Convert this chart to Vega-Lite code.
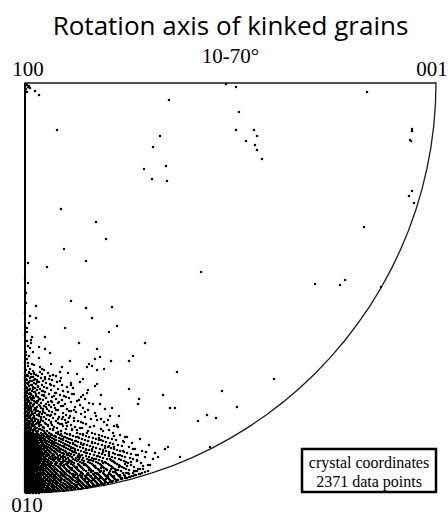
{
"$schema": "https://vega.github.io/schema/vega-lite/v6.json",
"width": 411, "height": 410,
"autosize": {"type": "none"},
"padding": {"left": 25, "top": 83, "right": 12, "bottom": 23},
"background": "white",
"config": {"view": {"stroke": null}},
"title": {"text": "Rotation axis of kinked grains", "subtitle": "10-70°", "font": "Open Sans", "fontSize": 26, "fontWeight": "normal", "color": "black", "subtitleFont": "Liberation Serif", "subtitleFontSize": 21, "subtitleColor": "black", "subtitlePadding": 6, "anchor": "middle", "frame": "group", "offset": -8},
"datasets": {
"outline": [
{"o":0,"x":0,"y":0},{"o":1,"x":0,"y":410},{"o":2,"x":411,"y":410},
{"o":3,"x":410.44,"y":388.54},{"o":4,"x":408.75,"y":367.14},{"o":5,"x":405.94,"y":345.86},{"o":6,"x":402.02,"y":324.76},{"o":7,"x":397.0,"y":303.88},{"o":8,"x":390.89,"y":283.3},{"o":9,"x":383.7,"y":263.07},{"o":10,"x":375.47,"y":243.24},{"o":11,"x":366.21,"y":223.86},{"o":12,"x":355.94,"y":205.0},{"o":13,"x":344.69,"y":186.7},{"o":14,"x":332.51,"y":169.01},{"o":15,"x":319.41,"y":151.98},{"o":16,"x":305.43,"y":135.66},{"o":17,"x":290.62,"y":120.08},{"o":18,"x":275.01,"y":105.31},{"o":19,"x":258.65,"y":91.37},{"o":20,"x":241.58,"y":78.3},{"o":21,"x":223.85,"y":66.15},{"o":22,"x":205.5,"y":54.93},{"o":23,"x":186.59,"y":44.69},{"o":24,"x":167.17,"y":35.44},{"o":25,"x":147.29,"y":27.23},{"o":26,"x":127.01,"y":20.07},{"o":27,"x":106.38,"y":13.97},{"o":28,"x":85.45,"y":8.96},{"o":29,"x":64.29,"y":5.05},{"o":30,"x":42.96,"y":2.25},{"o":31,"x":21.51,"y":0.56},{"o":32,"x":0,"y":0}
],
"pts": [
{"x":144,"y":393},{"x":32,"y":363},{"x":135,"y":357},{"x":128,"y":346},{"x":119,"y":324},{"x":141,"y":327},{"x":127,"y":314},{"x":142,"y":312},{"x":36,"y":284},{"x":71,"y":271},{"x":81,"y":254},{"x":39,"y":244},{"x":61,"y":232},{"x":22,"y":226},{"x":176,"y":221},{"x":14,"y":398},{"x":10,"y":402},{"x":2,"y":408},{"x":3,"y":406},{"x":1,"y":404},{"x":4,"y":407},{"x":2,"y":401},{"x":5,"y":405},{"x":1,"y":409},
{"x":211,"y":406},{"x":342,"y":401},{"x":214,"y":381},{"x":211,"y":363},{"x":229,"y":363},{"x":232,"y":357},{"x":221,"y":352},{"x":230,"y":348},{"x":232,"y":343},{"x":237,"y":334},{"x":387,"y":364},{"x":387,"y":362},{"x":385,"y":353},{"x":386,"y":352},{"x":387,"y":302},{"x":384,"y":297},{"x":389,"y":290},{"x":339,"y":266},{"x":290,"y":209},{"x":315,"y":208},{"x":320,"y":213},{"x":356,"y":206},{"x":201,"y":409},{"x":249,"y":114},{"x":212,"y":86},
{"x":11,"y":187},{"x":46,"y":192},{"x":61,"y":185},{"x":87,"y":186},{"x":11,"y":175},{"x":67,"y":175},{"x":40,"y":165},{"x":92,"y":167},{"x":84,"y":161},{"x":2,"y":161},{"x":7,"y":156},{"x":20,"y":156},{"x":54,"y":150},{"x":120,"y":150},{"x":6,"y":150},{"x":14,"y":146},{"x":20,"y":144},{"x":8,"y":141},{"x":25,"y":140},{"x":72,"y":144},{"x":70,"y":134},{"x":75,"y":136},{"x":86,"y":132},{"x":104,"y":132},{"x":108,"y":137},{"x":45,"y":132},{"x":62,"y":126},{"x":67,"y":127},{"x":72,"y":123},{"x":79,"y":124},{"x":35,"y":121},{"x":52,"y":119},{"x":152,"y":121},{"x":138,"y":98},{"x":197,"y":102},{"x":113,"y":89},{"x":114,"y":94},{"x":145,"y":85},{"x":150,"y":85},{"x":182,"y":78},{"x":191,"y":75},{"x":173,"y":72},{"x":104,"y":104},{"x":55,"y":111},{"x":70,"y":107},{"x":72,"y":109},{"x":47,"y":99},{"x":58,"y":98},{"x":92,"y":67},{"x":89,"y":67},{"x":76,"y":74},{"x":94,"y":77},{"x":100,"y":56},{"x":98,"y":42},{"x":89,"y":46},{"x":111,"y":38},{"x":121,"y":41},{"x":133,"y":36},{"x":143,"y":46},{"x":155,"y":36},{"x":118,"y":27},{"x":101,"y":20},{"x":110,"y":22},{"x":113,"y":24},{"x":123,"y":28},{"x":185,"y":46},
{"x":0,"y":125},{"x":3,"y":130},{"x":1,"y":138},{"x":5,"y":145},{"x":2,"y":152},{"x":9,"y":128},{"x":14,"y":135},{"x":4,"y":170},{"x":0,"y":180},{"x":1,"y":200},{"x":0,"y":215},{"x":3,"y":230},{"x":17,"y":124},{"x":26,"y":129},
{"x":33,"y":4},{"x":44,"y":6},{"x":27,"y":9},{"x":52,"y":11},{"x":61,"y":7},{"x":39,"y":13},{"x":70,"y":15},{"x":57,"y":17},{"x":48,"y":19},{"x":83,"y":16},{"x":66,"y":21},{"x":91,"y":23},{"x":76,"y":25},{"x":35,"y":26},{"x":59,"y":28},{"x":102,"y":27},{"x":44,"y":31},{"x":87,"y":32},{"x":69,"y":34},{"x":53,"y":36},{"x":95,"y":38},{"x":38,"y":40},{"x":78,"y":41},{"x":61,"y":43},{"x":108,"y":44},{"x":46,"y":45},{"x":84,"y":47},{"x":29,"y":49},{"x":67,"y":50},{"x":99,"y":51},{"x":51,"y":52},{"x":74,"y":55},{"x":40,"y":56},{"x":89,"y":57},{"x":58,"y":59},{"x":33,"y":61},{"x":78,"y":62},{"x":47,"y":64},{"x":65,"y":66},{"x":92,"y":68},{"x":37,"y":69},{"x":56,"y":71},{"x":83,"y":73},{"x":44,"y":75},{"x":71,"y":77},{"x":30,"y":79},{"x":60,"y":81},{"x":49,"y":83},{"x":87,"y":85},{"x":38,"y":87},{"x":68,"y":89},{"x":27,"y":91},{"x":54,"y":93},{"x":41,"y":96},{"x":76,"y":98},{"x":31,"y":100},{"x":63,"y":103},{"x":22,"y":105},{"x":46,"y":108},{"x":35,"y":112},{"x":58,"y":114},{"x":25,"y":117},{"x":43,"y":120},{"x":19,"y":123},{"x":37,"y":126},{"x":64,"y":129},
{"x":18,"y":6},{"x":23,"y":12},{"x":29,"y":15},{"x":36,"y":18},{"x":42,"y":22},{"x":47,"y":25},{"x":19,"y":27},{"x":24,"y":29},{"x":38,"y":31},{"x":53,"y":33},{"x":20,"y":35},{"x":27,"y":37},{"x":43,"y":38},{"x":16,"y":40},{"x":33,"y":42},{"x":50,"y":43},{"x":22,"y":46},{"x":39,"y":47},{"x":56,"y":49},{"x":17,"y":51},{"x":30,"y":53},{"x":45,"y":54},{"x":25,"y":57},{"x":36,"y":59},{"x":19,"y":62},{"x":28,"y":64},{"x":52,"y":63},{"x":23,"y":68},{"x":41,"y":70},{"x":16,"y":73},{"x":33,"y":74},{"x":26,"y":78},{"x":18,"y":81},{"x":44,"y":82},{"x":21,"y":86},{"x":34,"y":91},{"x":15,"y":94},{"x":29,"y":97},{"x":17,"y":102},{"x":26,"y":108},{"x":12,"y":111},{"x":20,"y":114},{"x":9,"y":119},{"x":15,"y":126},
{"x":41,"y":3},{"x":50,"y":5},{"x":56,"y":4},{"x":63,"y":6},{"x":68,"y":7},{"x":72,"y":8},{"x":76,"y":9},{"x":80,"y":10},{"x":85,"y":11},{"x":88,"y":12},{"x":93,"y":13},{"x":97,"y":14},{"x":100,"y":15},{"x":104,"y":16},{"x":107,"y":17},{"x":111,"y":18},{"x":114,"y":19},{"x":117,"y":20},{"x":120,"y":21},{"x":123,"y":22},{"x":45,"y":7},{"x":58,"y":9},{"x":66,"y":12},{"x":74,"y":13},{"x":81,"y":14},{"x":89,"y":17},{"x":95,"y":18},{"x":103,"y":20},{"x":109,"y":22},{"x":115,"y":24},{"x":53,"y":15},{"x":62,"y":18},{"x":70,"y":20},{"x":79,"y":22},{"x":86,"y":24},{"x":94,"y":26},{"x":100,"y":29},{"x":106,"y":31},{"x":112,"y":33},
{"x":19,"y":2},{"x":26,"y":3},{"x":32,"y":2},{"x":37,"y":4},{"x":42,"y":5},{"x":29,"y":6},{"x":35,"y":7},{"x":47,"y":6},{"x":52,"y":8},{"x":40,"y":9},{"x":57,"y":10},{"x":31,"y":10},{"x":46,"y":11},{"x":63,"y":11},{"x":25,"y":12},{"x":36,"y":13},{"x":53,"y":12},{"x":68,"y":13},{"x":42,"y":14},{"x":60,"y":14},{"x":75,"y":15},{"x":28,"y":16},{"x":49,"y":16},{"x":66,"y":17},{"x":83,"y":18},{"x":37,"y":19},{"x":56,"y":20},{"x":72,"y":19},{"x":90,"y":21},{"x":44,"y":22},{"x":64,"y":23},{"x":81,"y":24},{"x":30,"y":24},{"x":52,"y":26},{"x":70,"y":27},{"x":92,"y":29},{"x":39,"y":28},{"x":58,"y":30},{"x":78,"y":30},{"x":46,"y":32},{"x":64,"y":33},{"x":85,"y":34},{"x":33,"y":35},{"x":55,"y":37},{"x":73,"y":37},{"x":42,"y":39},{"x":61,"y":40},{"x":84,"y":39},{"x":50,"y":41},{"x":35,"y":43},{"x":67,"y":44},{"x":80,"y":45},{"x":44,"y":47},{"x":58,"y":48},{"x":27,"y":50},{"x":48,"y":50},{"x":63,"y":52},{"x":38,"y":54},{"x":76,"y":53},{"x":53,"y":56},{"x":30,"y":57},{"x":45,"y":59},{"x":62,"y":60},{"x":36,"y":62},{"x":57,"y":65},{"x":42,"y":67},{"x":26,"y":70},{"x":49,"y":72},{"x":38,"y":76},{"x":22,"y":78},{"x":31,"y":83},{"x":24,"y":88},{"x":13,"y":92},{"x":19,"y":98},
{"x":1,"y":15},{"x":3,"y":22},{"x":2,"y":29},{"x":4,"y":33},{"x":1,"y":38},{"x":3,"y":45},{"x":2,"y":51},{"x":4,"y":57},{"x":1,"y":64},{"x":3,"y":68},{"x":6,"y":27},{"x":8,"y":19},{"x":10,"y":33},{"x":12,"y":26},{"x":7,"y":47},{"x":9,"y":52},{"x":11,"y":43},{"x":13,"y":57},{"x":15,"y":30},{"x":17,"y":44},{"x":6,"y":60},{"x":10,"y":65},{"x":14,"y":69},{"x":17,"y":58},{"x":19,"y":39},{"x":12,"y":49},{"x":8,"y":36},{"x":5,"y":42},{"x":7,"y":11},{"x":9,"y":24},{"x":11,"y":6},{"x":13,"y":13},{"x":15,"y":9},{"x":17,"y":20},{"x":19,"y":15},{"x":21,"y":25},{"x":23,"y":33},{"x":25,"y":41},{"x":21,"y":52},{"x":18,"y":66},
{"x":1,"y":61},{"x":3,"y":65},{"x":5,"y":61},{"x":7,"y":63},{"x":9,"y":67},{"x":11,"y":62},{"x":14,"y":64},{"x":2,"y":67},{"x":4,"y":70},{"x":6,"y":72},{"x":8,"y":69},{"x":10,"y":74},{"x":13,"y":71},{"x":16,"y":76},{"x":1,"y":73},{"x":3,"y":78},{"x":5,"y":75},{"x":7,"y":80},{"x":9,"y":77},{"x":11,"y":82},{"x":14,"y":79},{"x":18,"y":84},{"x":0,"y":79},{"x":2,"y":82},{"x":4,"y":86},{"x":6,"y":83},{"x":8,"y":88},{"x":10,"y":85},{"x":12,"y":90},{"x":15,"y":87},{"x":1,"y":88},{"x":3,"y":93},{"x":5,"y":90},{"x":7,"y":95},{"x":9,"y":92},{"x":11,"y":97},{"x":14,"y":94},{"x":0,"y":97},{"x":2,"y":100},{"x":4,"y":103},{"x":6,"y":99},{"x":8,"y":104},{"x":10,"y":101},{"x":13,"y":106},{"x":1,"y":106},{"x":3,"y":110},{"x":5,"y":112},{"x":7,"y":108},{"x":9,"y":113},{"x":0,"y":114},{"x":2,"y":117},{"x":4,"y":120},{"x":6,"y":116},{"x":8,"y":122},{"x":1,"y":123},{"x":3,"y":127},{"x":5,"y":124},{"x":7,"y":129},{"x":0,"y":131},{"x":2,"y":134},{"x":4,"y":137},{"x":1,"y":141},{"x":3,"y":147},{"x":6,"y":153},{"x":0,"y":158},{"x":2,"y":165},{"x":5,"y":177},{"x":1,"y":190},{"x":3,"y":210},
{"x":1,"y":0},{"x":3,"y":0},{"x":5,"y":0},{"x":8,"y":0},{"x":11,"y":0},{"x":14,"y":0},
{"x":0,"y":1},{"x":3,"y":1},{"x":5,"y":1},{"x":8,"y":1},{"x":10,"y":1},{"x":13,"y":1},{"x":17,"y":1},{"x":20,"y":1},{"x":23,"y":1},{"x":26,"y":1},
{"x":1,"y":2},{"x":2,"y":2},{"x":4,"y":2},{"x":7,"y":2},{"x":9,"y":2},{"x":12,"y":2},{"x":15,"y":2},{"x":18,"y":2},{"x":21,"y":2},{"x":24,"y":2},{"x":28,"y":2},{"x":31,"y":2},{"x":35,"y":2},{"x":39,"y":2},
{"x":0,"y":3},{"x":3,"y":3},{"x":6,"y":3},{"x":8,"y":3},{"x":11,"y":3},{"x":13,"y":3},{"x":16,"y":3},{"x":20,"y":3},{"x":23,"y":3},{"x":27,"y":3},{"x":30,"y":3},{"x":34,"y":3},{"x":38,"y":3},{"x":43,"y":3},{"x":47,"y":3},
{"x":1,"y":4},{"x":2,"y":4},{"x":5,"y":4},{"x":7,"y":4},{"x":10,"y":4},{"x":12,"y":4},{"x":15,"y":4},{"x":18,"y":4},{"x":22,"y":4},{"x":25,"y":4},{"x":29,"y":4},{"x":33,"y":4},{"x":37,"y":4},{"x":41,"y":4},{"x":46,"y":4},{"x":50,"y":4},{"x":54,"y":4},
{"x":0,"y":5},{"x":3,"y":5},{"x":4,"y":5},{"x":6,"y":5},{"x":9,"y":5},{"x":11,"y":5},{"x":14,"y":5},{"x":17,"y":5},{"x":21,"y":5},{"x":24,"y":5},{"x":28,"y":5},{"x":32,"y":5},{"x":36,"y":5},{"x":40,"y":5},{"x":45,"y":5},{"x":49,"y":5},{"x":53,"y":5},{"x":58,"y":5},{"x":62,"y":5},
{"x":1,"y":6},{"x":2,"y":6},{"x":5,"y":6},{"x":8,"y":6},{"x":10,"y":6},{"x":13,"y":6},{"x":16,"y":6},{"x":19,"y":6},{"x":23,"y":6},{"x":27,"y":6},{"x":31,"y":6},{"x":35,"y":6},{"x":39,"y":6},{"x":44,"y":6},{"x":48,"y":6},{"x":52,"y":6},{"x":57,"y":6},{"x":61,"y":6},{"x":66,"y":6},
{"x":0,"y":7},{"x":3,"y":7},{"x":4,"y":7},{"x":7,"y":7},{"x":9,"y":7},{"x":12,"y":7},{"x":15,"y":7},{"x":18,"y":7},{"x":22,"y":7},{"x":26,"y":7},{"x":29,"y":7},{"x":34,"y":7},{"x":38,"y":7},{"x":42,"y":7},{"x":47,"y":7},{"x":51,"y":7},{"x":56,"y":7},{"x":60,"y":7},{"x":65,"y":7},{"x":70,"y":7},
{"x":1,"y":8},{"x":2,"y":8},{"x":5,"y":8},{"x":6,"y":8},{"x":8,"y":8},{"x":11,"y":8},{"x":14,"y":8},{"x":17,"y":8},{"x":20,"y":8},{"x":24,"y":8},{"x":28,"y":8},{"x":32,"y":8},{"x":37,"y":8},{"x":41,"y":8},{"x":45,"y":8},{"x":50,"y":8},{"x":55,"y":8},{"x":59,"y":8},{"x":64,"y":8},{"x":69,"y":8},{"x":74,"y":8},{"x":79,"y":8},
{"x":0,"y":9},{"x":3,"y":9},{"x":4,"y":9},{"x":7,"y":9},{"x":10,"y":9},{"x":13,"y":9},{"x":16,"y":9},{"x":19,"y":9},{"x":23,"y":9},{"x":27,"y":9},{"x":31,"y":9},{"x":35,"y":9},{"x":40,"y":9},{"x":44,"y":9},{"x":49,"y":9},{"x":54,"y":9},{"x":58,"y":9},{"x":63,"y":9},{"x":68,"y":9},{"x":73,"y":9},{"x":78,"y":9},
{"x":1,"y":10},{"x":2,"y":10},{"x":5,"y":10},{"x":8,"y":10},{"x":9,"y":10},{"x":12,"y":10},{"x":15,"y":10},{"x":18,"y":10},{"x":21,"y":10},{"x":25,"y":10},{"x":30,"y":10},{"x":33,"y":10},{"x":38,"y":10},{"x":43,"y":10},{"x":47,"y":10},{"x":53,"y":10},{"x":57,"y":10},{"x":62,"y":10},{"x":67,"y":10},{"x":72,"y":10},{"x":77,"y":10},{"x":83,"y":10},
{"x":0,"y":11},{"x":3,"y":11},{"x":4,"y":11},{"x":6,"y":11},{"x":10,"y":11},{"x":11,"y":11},{"x":14,"y":11},{"x":17,"y":11},{"x":20,"y":11},{"x":24,"y":11},{"x":28,"y":11},{"x":32,"y":11},{"x":36,"y":11},{"x":42,"y":11},{"x":46,"y":11},{"x":51,"y":11},{"x":56,"y":11},{"x":61,"y":11},{"x":66,"y":11},{"x":71,"y":11},{"x":76,"y":11},{"x":81,"y":11},{"x":87,"y":11},
{"x":1,"y":12},{"x":2,"y":12},{"x":5,"y":12},{"x":7,"y":12},{"x":9,"y":12},{"x":13,"y":12},{"x":16,"y":12},{"x":19,"y":12},{"x":23,"y":12},{"x":27,"y":12},{"x":31,"y":12},{"x":35,"y":12},{"x":40,"y":12},{"x":45,"y":12},{"x":50,"y":12},{"x":55,"y":12},{"x":60,"y":12},{"x":65,"y":12},{"x":70,"y":12},{"x":75,"y":12},{"x":80,"y":12},{"x":86,"y":12},{"x":91,"y":12},
{"x":0,"y":13},{"x":3,"y":13},{"x":4,"y":13},{"x":6,"y":13},{"x":8,"y":13},{"x":11,"y":13},{"x":14,"y":13},{"x":17,"y":13},{"x":21,"y":13},{"x":26,"y":13},{"x":29,"y":13},{"x":34,"y":13},{"x":39,"y":13},{"x":44,"y":13},{"x":48,"y":13},{"x":54,"y":13},{"x":59,"y":13},{"x":64,"y":13},{"x":69,"y":13},{"x":74,"y":13},{"x":79,"y":13},{"x":85,"y":13},{"x":92,"y":13},
{"x":1,"y":14},{"x":2,"y":14},{"x":5,"y":14},{"x":7,"y":14},{"x":10,"y":14},{"x":12,"y":14},{"x":15,"y":14},{"x":18,"y":14},{"x":22,"y":14},{"x":25,"y":14},{"x":30,"y":14},{"x":33,"y":14},{"x":37,"y":14},{"x":43,"y":14},{"x":47,"y":14},{"x":52,"y":14},{"x":58,"y":14},{"x":63,"y":14},{"x":68,"y":14},{"x":73,"y":14},{"x":78,"y":14},{"x":84,"y":14},{"x":90,"y":14},{"x":96,"y":14},
{"x":0,"y":15},{"x":3,"y":15},{"x":4,"y":15},{"x":6,"y":15},{"x":9,"y":15},{"x":11,"y":15},{"x":13,"y":15},{"x":16,"y":15},{"x":20,"y":15},{"x":24,"y":15},{"x":28,"y":15},{"x":32,"y":15},{"x":36,"y":15},{"x":41,"y":15},{"x":46,"y":15},{"x":51,"y":15},{"x":57,"y":15},{"x":62,"y":15},{"x":67,"y":15},{"x":72,"y":15},{"x":77,"y":15},{"x":83,"y":15},{"x":89,"y":15},{"x":97,"y":15},{"x":102,"y":15},
{"x":1,"y":16},{"x":2,"y":16},{"x":5,"y":16},{"x":8,"y":16},{"x":10,"y":16},{"x":12,"y":16},{"x":14,"y":16},{"x":19,"y":16},{"x":23,"y":16},{"x":27,"y":16},{"x":31,"y":16},{"x":35,"y":16},{"x":40,"y":16},{"x":45,"y":16},{"x":49,"y":16},{"x":56,"y":16},{"x":61,"y":16},{"x":66,"y":16},{"x":71,"y":16},{"x":76,"y":16},{"x":82,"y":16},{"x":88,"y":16},{"x":95,"y":16},{"x":105,"y":16},
{"x":0,"y":17},{"x":3,"y":17},{"x":4,"y":17},{"x":6,"y":17},{"x":7,"y":17},{"x":9,"y":17},{"x":13,"y":17},{"x":16,"y":17},{"x":21,"y":17},{"x":25,"y":17},{"x":29,"y":17},{"x":34,"y":17},{"x":38,"y":17},{"x":44,"y":17},{"x":48,"y":17},{"x":53,"y":17},{"x":60,"y":17},{"x":65,"y":17},{"x":70,"y":17},{"x":75,"y":17},{"x":81,"y":17},{"x":87,"y":17},{"x":94,"y":17},{"x":100,"y":17},{"x":108,"y":17},
{"x":1,"y":18},{"x":2,"y":18},{"x":5,"y":18},{"x":8,"y":18},{"x":11,"y":18},{"x":14,"y":18},{"x":15,"y":18},{"x":18,"y":18},{"x":22,"y":18},{"x":26,"y":18},{"x":30,"y":18},{"x":33,"y":18},{"x":39,"y":18},{"x":42,"y":18},{"x":50,"y":18},{"x":55,"y":18},{"x":64,"y":18},{"x":69,"y":18},{"x":74,"y":18},{"x":80,"y":18},{"x":86,"y":18},{"x":93,"y":18},{"x":99,"y":18},{"x":110,"y":18},
{"x":0,"y":19},{"x":3,"y":19},{"x":4,"y":19},{"x":6,"y":19},{"x":9,"y":19},{"x":10,"y":19},{"x":13,"y":19},{"x":17,"y":19},{"x":20,"y":19},{"x":24,"y":19},{"x":28,"y":19},{"x":32,"y":19},{"x":37,"y":19},{"x":41,"y":19},{"x":47,"y":19},{"x":52,"y":19},{"x":58,"y":19},{"x":62,"y":19},{"x":68,"y":19},{"x":73,"y":19},{"x":79,"y":19},{"x":85,"y":19},{"x":92,"y":19},{"x":104,"y":19},{"x":115,"y":19},
{"x":1,"y":20},{"x":2,"y":20},{"x":5,"y":20},{"x":7,"y":20},{"x":8,"y":20},{"x":12,"y":20},{"x":14,"y":20},{"x":16,"y":20},{"x":19,"y":20},{"x":23,"y":20},{"x":27,"y":20},{"x":31,"y":20},{"x":36,"y":20},{"x":40,"y":20},{"x":45,"y":20},{"x":51,"y":20},{"x":57,"y":20},{"x":63,"y":20},{"x":72,"y":20},{"x":78,"y":20},{"x":84,"y":20},{"x":91,"y":20},{"x":98,"y":20},{"x":108,"y":20},
{"x":0,"y":21},{"x":3,"y":21},{"x":6,"y":21},{"x":9,"y":21},{"x":12,"y":21},{"x":15,"y":21},{"x":18,"y":21},{"x":22,"y":21},{"x":26,"y":21},{"x":30,"y":21},{"x":35,"y":21},{"x":39,"y":21},{"x":44,"y":21},{"x":50,"y":21},{"x":56,"y":21},{"x":66,"y":21},{"x":75,"y":21},{"x":88,"y":21},
{"x":0,"y":22},{"x":2,"y":22},{"x":4,"y":22},{"x":5,"y":22},{"x":7,"y":22},{"x":10,"y":22},{"x":12,"y":22},{"x":15,"y":22},{"x":18,"y":22},{"x":21,"y":22},{"x":25,"y":22},{"x":29,"y":22},{"x":33,"y":22},{"x":38,"y":22},{"x":43,"y":22},{"x":49,"y":22},{"x":54,"y":22},{"x":61,"y":22},{"x":68,"y":22},{"x":76,"y":22},{"x":85,"y":22},{"x":96,"y":22},{"x":112,"y":22},
{"x":1,"y":23},{"x":3,"y":23},{"x":6,"y":23},{"x":9,"y":23},{"x":11,"y":23},{"x":14,"y":23},{"x":17,"y":23},{"x":20,"y":23},{"x":24,"y":23},{"x":28,"y":23},{"x":32,"y":23},{"x":37,"y":23},{"x":42,"y":23},{"x":47,"y":23},{"x":53,"y":23},{"x":59,"y":23},{"x":66,"y":23},{"x":74,"y":23},{"x":82,"y":23},{"x":93,"y":23},{"x":104,"y":23},
{"x":0,"y":24},{"x":2,"y":24},{"x":4,"y":24},{"x":7,"y":24},{"x":8,"y":24},{"x":10,"y":24},{"x":13,"y":24},{"x":16,"y":24},{"x":19,"y":24},{"x":23,"y":24},{"x":27,"y":24},{"x":31,"y":24},{"x":36,"y":24},{"x":41,"y":24},{"x":46,"y":24},{"x":52,"y":24},{"x":58,"y":24},{"x":65,"y":24},{"x":73,"y":24},{"x":81,"y":24},{"x":90,"y":24},{"x":101,"y":24},{"x":118,"y":24},
{"x":1,"y":25},{"x":3,"y":25},{"x":5,"y":25},{"x":6,"y":25},{"x":9,"y":25},{"x":12,"y":25},{"x":15,"y":25},{"x":18,"y":25},{"x":22,"y":25},{"x":26,"y":25},{"x":30,"y":25},{"x":35,"y":25},{"x":40,"y":25},{"x":45,"y":25},{"x":51,"y":25},{"x":57,"y":25},{"x":64,"y":25},{"x":71,"y":25},{"x":79,"y":25},{"x":88,"y":25},{"x":99,"y":25},
{"x":0,"y":26},{"x":2,"y":26},{"x":4,"y":26},{"x":6,"y":26},{"x":8,"y":26},{"x":11,"y":26},{"x":14,"y":26},{"x":17,"y":26},{"x":21,"y":26},{"x":25,"y":26},{"x":29,"y":26},{"x":34,"y":26},{"x":39,"y":26},{"x":44,"y":26},{"x":50,"y":26},{"x":56,"y":26},{"x":63,"y":26},{"x":70,"y":26},{"x":78,"y":26},{"x":87,"y":26},{"x":97,"y":26},{"x":109,"y":26},
{"x":1,"y":27},{"x":3,"y":27},{"x":5,"y":27},{"x":7,"y":27},{"x":10,"y":27},{"x":12,"y":27},{"x":16,"y":27},{"x":20,"y":27},{"x":24,"y":27},{"x":28,"y":27},{"x":33,"y":27},{"x":38,"y":27},{"x":43,"y":27},{"x":49,"y":27},{"x":55,"y":27},{"x":62,"y":27},{"x":69,"y":27},{"x":77,"y":27},{"x":86,"y":27},{"x":95,"y":27},
{"x":0,"y":28},{"x":2,"y":28},{"x":4,"y":28},{"x":6,"y":28},{"x":9,"y":28},{"x":11,"y":28},{"x":13,"y":28},{"x":18,"y":28},{"x":22,"y":28},{"x":26,"y":28},{"x":31,"y":28},{"x":36,"y":28},{"x":42,"y":28},{"x":48,"y":28},{"x":54,"y":28},{"x":61,"y":28},{"x":68,"y":28},{"x":76,"y":28},{"x":84,"y":28},{"x":94,"y":28},{"x":106,"y":28},{"x":125,"y":28},
{"x":1,"y":29},{"x":3,"y":29},{"x":5,"y":29},{"x":8,"y":29},{"x":10,"y":29},{"x":14,"y":29},{"x":17,"y":29},{"x":20,"y":29},{"x":25,"y":29},{"x":30,"y":29},{"x":35,"y":29},{"x":41,"y":29},{"x":46,"y":29},{"x":53,"y":29},{"x":60,"y":29},{"x":67,"y":29},{"x":75,"y":29},{"x":83,"y":29},{"x":92,"y":29},
{"x":0,"y":30},{"x":2,"y":30},{"x":4,"y":30},{"x":6,"y":30},{"x":7,"y":30},{"x":9,"y":30},{"x":12,"y":30},{"x":15,"y":30},{"x":19,"y":30},{"x":23,"y":30},{"x":27,"y":30},{"x":32,"y":30},{"x":37,"y":30},{"x":43,"y":30},{"x":49,"y":30},{"x":57,"y":30},{"x":65,"y":30},{"x":73,"y":30},{"x":81,"y":30},{"x":90,"y":30},{"x":103,"y":30},{"x":116,"y":30},
{"x":1,"y":31},{"x":3,"y":31},{"x":5,"y":31},{"x":8,"y":31},{"x":11,"y":31},{"x":14,"y":31},{"x":18,"y":31},{"x":22,"y":31},{"x":26,"y":31},{"x":31,"y":31},{"x":36,"y":31},{"x":42,"y":31},{"x":47,"y":31},{"x":55,"y":31},{"x":63,"y":31},{"x":71,"y":31},{"x":80,"y":31},{"x":89,"y":31},{"x":101,"y":31},
{"x":0,"y":32},{"x":2,"y":32},{"x":3,"y":32},{"x":6,"y":32},{"x":9,"y":32},{"x":10,"y":32},{"x":13,"y":32},{"x":16,"y":32},{"x":20,"y":32},{"x":24,"y":32},{"x":29,"y":32},{"x":34,"y":32},{"x":40,"y":32},{"x":45,"y":32},{"x":52,"y":32},{"x":59,"y":32},{"x":68,"y":32},{"x":77,"y":32},{"x":88,"y":32},{"x":99,"y":32},{"x":112,"y":32},
{"x":1,"y":33},{"x":4,"y":33},{"x":5,"y":33},{"x":7,"y":33},{"x":11,"y":33},{"x":12,"y":33},{"x":15,"y":33},{"x":19,"y":33},{"x":23,"y":33},{"x":28,"y":33},{"x":33,"y":33},{"x":38,"y":33},{"x":44,"y":33},{"x":50,"y":33},{"x":57,"y":33},{"x":66,"y":33},{"x":74,"y":33},{"x":86,"y":33},{"x":96,"y":33},
{"x":0,"y":34},{"x":2,"y":34},{"x":3,"y":34},{"x":6,"y":34},{"x":8,"y":34},{"x":10,"y":34},{"x":14,"y":34},{"x":17,"y":34},{"x":21,"y":34},{"x":26,"y":34},{"x":30,"y":34},{"x":35,"y":34},{"x":41,"y":34},{"x":48,"y":34},{"x":54,"y":34},{"x":62,"y":34},{"x":71,"y":34},{"x":82,"y":34},{"x":94,"y":34},{"x":108,"y":34},{"x":128,"y":34},
{"x":1,"y":35},{"x":4,"y":35},{"x":5,"y":35},{"x":7,"y":35},{"x":9,"y":35},{"x":12,"y":35},{"x":15,"y":35},{"x":19,"y":35},{"x":24,"y":35},{"x":28,"y":35},{"x":32,"y":35},{"x":38,"y":35},{"x":43,"y":35},{"x":51,"y":35},{"x":58,"y":35},{"x":67,"y":35},{"x":78,"y":35},{"x":90,"y":35},{"x":105,"y":35},
{"x":0,"y":36},{"x":2,"y":36},{"x":3,"y":36},{"x":6,"y":36},{"x":8,"y":36},{"x":11,"y":36},{"x":13,"y":36},{"x":16,"y":36},{"x":20,"y":36},{"x":25,"y":36},{"x":30,"y":36},{"x":36,"y":36},{"x":40,"y":36},{"x":47,"y":36},{"x":55,"y":36},{"x":64,"y":36},{"x":75,"y":36},{"x":87,"y":36},{"x":100,"y":36},{"x":120,"y":36},
{"x":1,"y":37},{"x":4,"y":37},{"x":5,"y":37},{"x":7,"y":37},{"x":10,"y":37},{"x":12,"y":37},{"x":15,"y":37},{"x":18,"y":37},{"x":22,"y":37},{"x":27,"y":37},{"x":33,"y":37},{"x":38,"y":37},{"x":45,"y":37},{"x":53,"y":37},{"x":61,"y":37},{"x":72,"y":37},{"x":84,"y":37},{"x":97,"y":37},
{"x":0,"y":38},{"x":2,"y":38},{"x":3,"y":38},{"x":6,"y":38},{"x":9,"y":38},{"x":11,"y":38},{"x":14,"y":38},{"x":17,"y":38},{"x":21,"y":38},{"x":24,"y":38},{"x":29,"y":38},{"x":35,"y":38},{"x":42,"y":38},{"x":49,"y":38},{"x":57,"y":38},{"x":69,"y":38},{"x":80,"y":38},{"x":93,"y":38},{"x":113,"y":38},
{"x":1,"y":39},{"x":4,"y":39},{"x":5,"y":39},{"x":8,"y":39},{"x":10,"y":39},{"x":13,"y":39},{"x":16,"y":39},{"x":19,"y":39},{"x":23,"y":39},{"x":28,"y":39},{"x":32,"y":39},{"x":39,"y":39},{"x":46,"y":39},{"x":54,"y":39},{"x":65,"y":39},{"x":77,"y":39},{"x":90,"y":39},{"x":106,"y":39},
{"x":0,"y":40},{"x":2,"y":40},{"x":3,"y":40},{"x":6,"y":40},{"x":7,"y":40},{"x":9,"y":40},{"x":12,"y":40},{"x":15,"y":40},{"x":18,"y":40},{"x":22,"y":40},{"x":26,"y":40},{"x":31,"y":40},{"x":37,"y":40},{"x":44,"y":40},{"x":51,"y":40},{"x":62,"y":40},{"x":74,"y":40},{"x":88,"y":40},{"x":102,"y":40},{"x":130,"y":40},
{"x":1,"y":41},{"x":4,"y":41},{"x":5,"y":41},{"x":8,"y":41},{"x":11,"y":41},{"x":13,"y":41},{"x":17,"y":41},{"x":20,"y":41},{"x":25,"y":41},{"x":30,"y":41},{"x":35,"y":41},{"x":41,"y":41},{"x":48,"y":41},{"x":59,"y":41},{"x":70,"y":41},{"x":84,"y":41},{"x":99,"y":41},
{"x":0,"y":42},{"x":2,"y":42},{"x":3,"y":42},{"x":6,"y":42},{"x":9,"y":42},{"x":10,"y":42},{"x":14,"y":42},{"x":16,"y":42},{"x":21,"y":42},{"x":24,"y":42},{"x":29,"y":42},{"x":34,"y":42},{"x":40,"y":42},{"x":47,"y":42},{"x":56,"y":42},{"x":67,"y":42},{"x":81,"y":42},{"x":95,"y":42},{"x":117,"y":42},
{"x":1,"y":43},{"x":4,"y":43},{"x":5,"y":43},{"x":7,"y":43},{"x":8,"y":43},{"x":12,"y":43},{"x":15,"y":43},{"x":19,"y":43},{"x":23,"y":43},{"x":27,"y":43},{"x":32,"y":43},{"x":38,"y":43},{"x":45,"y":43},{"x":53,"y":43},{"x":64,"y":43},{"x":78,"y":43},{"x":92,"y":43},
{"x":0,"y":44},{"x":2,"y":44},{"x":3,"y":44},{"x":6,"y":44},{"x":9,"y":44},{"x":11,"y":44},{"x":14,"y":44},{"x":18,"y":44},{"x":22,"y":44},{"x":26,"y":44},{"x":31,"y":44},{"x":36,"y":44},{"x":43,"y":44},{"x":50,"y":44},{"x":61,"y":44},{"x":75,"y":44},{"x":89,"y":44},{"x":110,"y":44},{"x":140,"y":44},
{"x":1,"y":45},{"x":4,"y":45},{"x":5,"y":45},{"x":7,"y":45},{"x":10,"y":45},{"x":13,"y":45},{"x":16,"y":45},{"x":20,"y":45},{"x":25,"y":45},{"x":29,"y":45},{"x":34,"y":45},{"x":41,"y":45},{"x":48,"y":45},{"x":58,"y":45},{"x":71,"y":45},{"x":86,"y":45},
{"x":0,"y":46},{"x":2,"y":46},{"x":3,"y":46},{"x":6,"y":46},{"x":8,"y":46},{"x":11,"y":46},{"x":12,"y":46},{"x":15,"y":46},{"x":19,"y":46},{"x":23,"y":46},{"x":28,"y":46},{"x":33,"y":46},{"x":39,"y":46},{"x":46,"y":46},{"x":55,"y":46},{"x":68,"y":46},{"x":83,"y":46},{"x":104,"y":46},
{"x":1,"y":47},{"x":4,"y":47},{"x":5,"y":47},{"x":7,"y":47},{"x":10,"y":47},{"x":14,"y":47},{"x":17,"y":47},{"x":21,"y":47},{"x":26,"y":47},{"x":31,"y":47},{"x":37,"y":47},{"x":44,"y":47},{"x":52,"y":47},{"x":65,"y":47},{"x":80,"y":47},{"x":97,"y":47},
{"x":0,"y":48},{"x":2,"y":48},{"x":3,"y":48},{"x":6,"y":48},{"x":8,"y":48},{"x":9,"y":48},{"x":12,"y":48},{"x":16,"y":48},{"x":19,"y":48},{"x":24,"y":48},{"x":29,"y":48},{"x":35,"y":48},{"x":42,"y":48},{"x":50,"y":48},{"x":62,"y":48},{"x":77,"y":48},{"x":93,"y":48},{"x":124,"y":48},
{"x":1,"y":49},{"x":4,"y":49},{"x":5,"y":49},{"x":7,"y":49},{"x":11,"y":49},{"x":13,"y":49},{"x":17,"y":49},{"x":22,"y":49},{"x":27,"y":49},{"x":33,"y":49},{"x":40,"y":49},{"x":48,"y":49},{"x":59,"y":49},{"x":73,"y":49},{"x":88,"y":49},
{"x":0,"y":50},{"x":2,"y":50},{"x":3,"y":50},{"x":5,"y":50},{"x":8,"y":50},{"x":10,"y":50},{"x":14,"y":50},{"x":18,"y":50},{"x":21,"y":50},{"x":26,"y":50},{"x":31,"y":50},{"x":38,"y":50},{"x":45,"y":50},{"x":56,"y":50},{"x":70,"y":50},{"x":85,"y":50},{"x":107,"y":50},
{"x":1,"y":51},{"x":4,"y":51},{"x":6,"y":51},{"x":7,"y":51},{"x":9,"y":51},{"x":12,"y":51},{"x":16,"y":51},{"x":20,"y":51},{"x":24,"y":51},{"x":29,"y":51},{"x":36,"y":51},{"x":43,"y":51},{"x":53,"y":51},{"x":67,"y":51},{"x":81,"y":51},
{"x":0,"y":52},{"x":2,"y":52},{"x":3,"y":52},{"x":5,"y":52},{"x":8,"y":52},{"x":11,"y":52},{"x":13,"y":52},{"x":17,"y":52},{"x":22,"y":52},{"x":27,"y":52},{"x":34,"y":52},{"x":41,"y":52},{"x":50,"y":52},{"x":63,"y":52},{"x":78,"y":52},{"x":98,"y":52},
{"x":1,"y":53},{"x":4,"y":53},{"x":6,"y":53},{"x":9,"y":53},{"x":10,"y":53},{"x":15,"y":53},{"x":19,"y":53},{"x":25,"y":53},{"x":31,"y":53},{"x":38,"y":53},{"x":47,"y":53},{"x":60,"y":53},{"x":74,"y":53},{"x":91,"y":53},
{"x":0,"y":54},{"x":2,"y":54},{"x":3,"y":54},{"x":5,"y":54},{"x":7,"y":54},{"x":8,"y":54},{"x":12,"y":54},{"x":16,"y":54},{"x":20,"y":54},{"x":24,"y":54},{"x":29,"y":54},{"x":36,"y":54},{"x":44,"y":54},{"x":57,"y":54},{"x":71,"y":54},{"x":87,"y":54},{"x":115,"y":54},
{"x":1,"y":55},{"x":4,"y":55},{"x":6,"y":55},{"x":9,"y":55},{"x":11,"y":55},{"x":14,"y":55},{"x":18,"y":55},{"x":23,"y":55},{"x":27,"y":55},{"x":34,"y":55},{"x":42,"y":55},{"x":54,"y":55},{"x":68,"y":55},{"x":83,"y":55},
{"x":0,"y":56},{"x":2,"y":56},{"x":3,"y":56},{"x":5,"y":56},{"x":7,"y":56},{"x":10,"y":56},{"x":13,"y":56},{"x":16,"y":56},{"x":21,"y":56},{"x":25,"y":56},{"x":31,"y":56},{"x":39,"y":56},{"x":51,"y":56},{"x":64,"y":56},{"x":80,"y":56},{"x":102,"y":56},
{"x":1,"y":57},{"x":4,"y":57},{"x":6,"y":57},{"x":8,"y":57},{"x":12,"y":57},{"x":15,"y":57},{"x":19,"y":57},{"x":23,"y":57},{"x":29,"y":57},{"x":37,"y":57},{"x":48,"y":57},{"x":61,"y":57},{"x":77,"y":57},
{"x":0,"y":58},{"x":2,"y":58},{"x":3,"y":58},{"x":5,"y":58},{"x":9,"y":58},{"x":11,"y":58},{"x":14,"y":58},{"x":17,"y":58},{"x":22,"y":58},{"x":27,"y":58},{"x":35,"y":58},{"x":45,"y":58},{"x":58,"y":58},{"x":74,"y":58},{"x":95,"y":58},
{"x":1,"y":59},{"x":4,"y":59},{"x":6,"y":59},{"x":7,"y":59},{"x":10,"y":59},{"x":13,"y":59},{"x":18,"y":59},{"x":21,"y":59},{"x":26,"y":59},{"x":33,"y":59},{"x":42,"y":59},{"x":55,"y":59},{"x":70,"y":59},
{"x":0,"y":60},{"x":2,"y":60},{"x":3,"y":60},{"x":5,"y":60},{"x":8,"y":60},{"x":12,"y":60},{"x":16,"y":60},{"x":20,"y":60},{"x":24,"y":60},{"x":31,"y":60},{"x":40,"y":60},{"x":52,"y":60},{"x":67,"y":60},{"x":88,"y":60},
{"x":0,"y":62},{"x":1,"y":63},{"x":3,"y":62},{"x":5,"y":63},{"x":8,"y":62},{"x":10,"y":63},{"x":13,"y":62},{"x":17,"y":63},{"x":22,"y":62},{"x":28,"y":63},{"x":36,"y":62},{"x":47,"y":63},{"x":63,"y":62},{"x":84,"y":63},
{"x":0,"y":64},{"x":2,"y":65},{"x":4,"y":64},{"x":6,"y":65},{"x":9,"y":64},{"x":12,"y":65},{"x":15,"y":64},{"x":19,"y":65},{"x":25,"y":64},{"x":32,"y":65},{"x":41,"y":64},{"x":55,"y":65},{"x":76,"y":64},
{"x":1,"y":66},{"x":3,"y":67},{"x":5,"y":66},{"x":7,"y":67},{"x":10,"y":66},{"x":14,"y":67},{"x":18,"y":66},{"x":23,"y":67},{"x":29,"y":66},{"x":38,"y":67},{"x":50,"y":66},{"x":69,"y":67},{"x":93,"y":66},
{"x":0,"y":68},{"x":2,"y":69},{"x":4,"y":68},{"x":6,"y":69},{"x":9,"y":68},{"x":11,"y":69},{"x":16,"y":68},{"x":21,"y":69},{"x":27,"y":68},{"x":35,"y":69},{"x":46,"y":68},{"x":61,"y":69},{"x":82,"y":68},
{"x":1,"y":70},{"x":3,"y":71},{"x":5,"y":70},{"x":8,"y":71},{"x":12,"y":70},{"x":15,"y":71},{"x":20,"y":70},{"x":26,"y":71},{"x":33,"y":70},{"x":43,"y":71},{"x":58,"y":70},{"x":79,"y":71},
{"x":0,"y":72},{"x":2,"y":73},{"x":4,"y":72},{"x":7,"y":73},{"x":10,"y":72},{"x":13,"y":73},{"x":18,"y":72},{"x":24,"y":73},{"x":31,"y":72},{"x":40,"y":73},{"x":53,"y":72},{"x":72,"y":73},
{"x":1,"y":74},{"x":3,"y":75},{"x":6,"y":74},{"x":8,"y":75},{"x":11,"y":74},{"x":16,"y":75},{"x":21,"y":74},{"x":28,"y":75},{"x":37,"y":74},{"x":49,"y":75},{"x":66,"y":74},
{"x":0,"y":76},{"x":2,"y":77},{"x":4,"y":76},{"x":5,"y":77},{"x":9,"y":76},{"x":14,"y":77},{"x":19,"y":76},{"x":25,"y":77},{"x":34,"y":76},{"x":45,"y":77},{"x":60,"y":76},{"x":85,"y":77},
{"x":1,"y":78},{"x":3,"y":79},{"x":6,"y":78},{"x":8,"y":79},{"x":12,"y":78},{"x":17,"y":79},{"x":23,"y":78},{"x":30,"y":79},{"x":41,"y":78},{"x":56,"y":79},
{"x":0,"y":80},{"x":2,"y":81},{"x":4,"y":80},{"x":7,"y":81},{"x":10,"y":80},{"x":15,"y":81},{"x":20,"y":80},{"x":27,"y":81},{"x":38,"y":80},{"x":51,"y":81},{"x":70,"y":80},
{"x":1,"y":82},{"x":3,"y":83},{"x":5,"y":82},{"x":9,"y":83},{"x":13,"y":82},{"x":18,"y":83},{"x":24,"y":82},{"x":33,"y":83},{"x":46,"y":82},{"x":63,"y":83},
{"x":0,"y":84},{"x":2,"y":85},{"x":4,"y":84},{"x":6,"y":85},{"x":11,"y":84},{"x":16,"y":85},{"x":22,"y":84},{"x":30,"y":85},{"x":42,"y":84},{"x":58,"y":85},{"x":80,"y":84},
{"x":1,"y":86},{"x":3,"y":87},{"x":6,"y":86},{"x":8,"y":87},{"x":12,"y":86},{"x":19,"y":87},{"x":26,"y":86},{"x":36,"y":87},{"x":50,"y":86},
{"x":0,"y":88},{"x":2,"y":89},{"x":5,"y":88},{"x":9,"y":89},{"x":14,"y":88},{"x":21,"y":89},{"x":29,"y":88},{"x":40,"y":89},{"x":55,"y":88},{"x":75,"y":89},
{"x":1,"y":90},{"x":3,"y":91},{"x":6,"y":90},{"x":10,"y":91},{"x":16,"y":90},{"x":23,"y":91},{"x":33,"y":90},{"x":46,"y":91},{"x":64,"y":90},
{"x":0,"y":92},{"x":2,"y":93},{"x":4,"y":92},{"x":7,"y":93},{"x":12,"y":92},{"x":18,"y":93},{"x":26,"y":92},{"x":37,"y":93},{"x":52,"y":92},
{"x":1,"y":94},{"x":3,"y":95},{"x":6,"y":94},{"x":9,"y":95},{"x":15,"y":94},{"x":21,"y":95},{"x":31,"y":94},{"x":44,"y":95},{"x":60,"y":94},
{"x":0,"y":96},{"x":2,"y":97},{"x":5,"y":96},{"x":8,"y":97},{"x":13,"y":96},{"x":19,"y":97},{"x":27,"y":96},{"x":39,"y":97},{"x":56,"y":96},
{"x":1,"y":98},{"x":4,"y":99},{"x":6,"y":98},{"x":11,"y":99},{"x":17,"y":98},{"x":24,"y":99},{"x":35,"y":98},{"x":49,"y":99},
{"x":0,"y":100},{"x":2,"y":101},{"x":5,"y":100},{"x":9,"y":101},{"x":14,"y":100},{"x":20,"y":101},{"x":30,"y":100},{"x":43,"y":101},{"x":62,"y":100},
{"x":1,"y":102},{"x":3,"y":103},{"x":7,"y":102},{"x":12,"y":103},{"x":18,"y":102},{"x":26,"y":103},{"x":38,"y":102},
{"x":0,"y":104},{"x":2,"y":105},{"x":5,"y":104},{"x":10,"y":105},{"x":15,"y":104},{"x":22,"y":105},{"x":33,"y":104},{"x":48,"y":105},
{"x":1,"y":106},{"x":4,"y":107},{"x":8,"y":106},{"x":13,"y":107},{"x":19,"y":106},{"x":29,"y":107},{"x":42,"y":106},
{"x":0,"y":108},{"x":3,"y":109},{"x":6,"y":108},{"x":11,"y":109},{"x":17,"y":108},{"x":25,"y":109},{"x":37,"y":108},
{"x":1,"y":110},{"x":4,"y":111},{"x":9,"y":110},{"x":14,"y":111},{"x":21,"y":110},{"x":32,"y":111},{"x":46,"y":110},
{"x":0,"y":112},{"x":2,"y":113},{"x":7,"y":112},{"x":12,"y":113},{"x":18,"y":112},{"x":27,"y":113},
{"x":1,"y":114},{"x":5,"y":115},{"x":10,"y":114},{"x":16,"y":115},{"x":24,"y":114},{"x":36,"y":115},
{"x":0,"y":116},{"x":3,"y":117},{"x":8,"y":116},{"x":13,"y":117},{"x":20,"y":116},{"x":31,"y":117},
{"x":2,"y":118},{"x":6,"y":119},{"x":11,"y":118},{"x":17,"y":119},{"x":28,"y":118},
{"x":0,"y":120},{"x":4,"y":121},{"x":9,"y":120},{"x":15,"y":121},{"x":23,"y":120}
]
},
"layer": [
{"data": {"name": "outline"}, "mark": {"type": "line", "color": "#1a1a1a", "strokeWidth": 1.3, "clip": false},
 "encoding": {"x": {"field": "x", "type": "quantitative", "scale": {"domain": [0, 411], "nice": false}, "axis": null},
  "y": {"field": "y", "type": "quantitative", "scale": {"domain": [0, 410], "nice": false}, "axis": null},
  "order": {"field": "o", "type": "quantitative"}}},
{"data": {"name": "outline"}, "mark": {"type": "rule", "color": "black", "strokeWidth": 2},
 "encoding": {"x": {"datum": 0, "type": "quantitative", "scale": {"domain": [0, 411], "nice": false}, "axis": null},
  "y": {"datum": 0, "type": "quantitative", "scale": {"domain": [0, 410], "nice": false}, "axis": null},
  "y2": {"datum": 410}}},
{"data": {"name": "pts"}, "mark": {"type": "point", "shape": "square", "filled": true, "size": 5, "color": "black", "opacity": 1, "strokeWidth": 0, "clip": false},
 "encoding": {"x": {"field": "x", "type": "quantitative", "scale": {"domain": [0, 411], "nice": false}, "axis": null},
  "y": {"field": "y", "type": "quantitative", "scale": {"domain": [0, 410], "nice": false}, "axis": null}}},
{"data": {"values": [{}]}, "mark": {"type": "rect", "fill": "white", "stroke": "black", "strokeWidth": 2.5},
 "encoding": {"x": {"datum": 277, "type": "quantitative", "scale": {"domain": [0, 411], "nice": false}, "axis": null},
  "x2": {"datum": 411},
  "y": {"datum": 1, "type": "quantitative", "scale": {"domain": [0, 410], "nice": false}, "axis": null},
  "y2": {"datum": 44}}},
{"data": {"values": [{"line": "crystal coordinates", "x": 344, "y": 30}, {"line": "2371 data points", "x": 344, "y": 11}]}, "mark": {"type": "text", "font": "Liberation Serif", "fontSize": 16, "baseline": "middle", "align": "center", "color": "black"},
 "encoding": {"x": {"field": "x", "type": "quantitative", "scale": {"domain": [0, 411], "nice": false}, "axis": null},
  "y": {"field": "y", "type": "quantitative", "scale": {"domain": [0, 410], "nice": false}, "axis": null},
  "text": {"field": "line"}}},
{"data": {"values": [{"label": "100", "x": 3, "y": 410}, {"label": "001", "x": 407, "y": 410}]}, "mark": {"type": "text", "font": "Liberation Serif", "fontSize": 21, "baseline": "alphabetic", "align": "center", "dy": -7, "color": "black"},
 "encoding": {"x": {"field": "x", "type": "quantitative", "scale": {"domain": [0, 411], "nice": false}, "axis": null},
  "y": {"field": "y", "type": "quantitative", "scale": {"domain": [0, 410], "nice": false}, "axis": null},
  "text": {"field": "label"}}},
{"data": {"values": [{"label": "010", "x": 2, "y": 0}]}, "mark": {"type": "text", "font": "Liberation Serif", "fontSize": 21, "baseline": "top", "align": "center", "dy": 2, "color": "black"},
 "encoding": {"x": {"field": "x", "type": "quantitative", "scale": {"domain": [0, 411], "nice": false}, "axis": null},
  "y": {"field": "y", "type": "quantitative", "scale": {"domain": [0, 410], "nice": false}, "axis": null},
  "text": {"field": "label"}}}
]
}
